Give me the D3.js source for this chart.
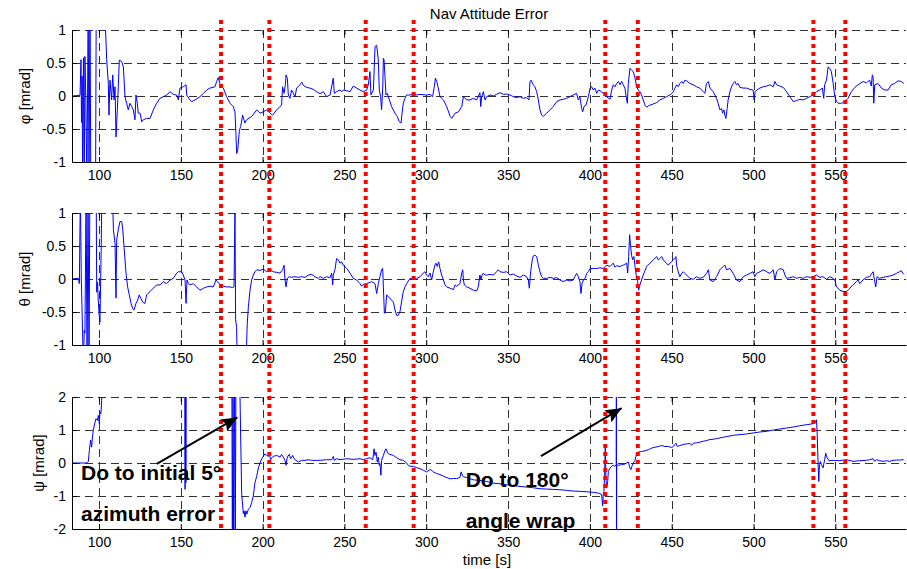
<!DOCTYPE html>
<html>
<head>
<meta charset="utf-8">
<script src="https://cdn.jsdelivr.net/npm/d3@7"></script>
<style>
  body { margin: 0; background: #fff; }
  svg { display: block; }
  text { font-family: "Liberation Sans", Arial, Helvetica, sans-serif; }
</style>
</head>
<body>
<svg id="chart" width="907" height="569"></svg>
<script>
// ---- data ---------------------------------------------------------------
const timeTicks = [100, 150, 200, 250, 300, 350, 400, 450, 500, 550];
const smallAngleTicks = [-1, -0.5, 0, 0.5, 1];
const yawTicks = [-2, -1, 0, 1, 2];
const eventTimes = [174.6, 204.1, 263.0, 292.3, 409.4, 429.3, 536.6, 556.1];

// roll attitude error [mrad] vs time [s]
const phiData = [
 [83.5,0],[88.4,0.01],[89.0,0.55],[89.3,-0.4],[89.7,0.3],[90.0,-1.4],[90.5,0.58],[91.0,-1.4],[91.4,0.6],[92.0,-0.1],
 [92.6,-1.4],[93.4,1.4],[93.9,-1.4],[94.5,1.4],[95.0,-1.4],[97.9,-1.4],[98.3,1.4],[102.5,1.4],[102.8,1.0],[104.0,1.0],
 [104.7,0.55],[105.7,0.19],[106.1,-0.29],[106.7,0.24],[107.7,-0.06],[108.4,0.32],[109.2,-0.06],[109.8,0.14],[110.4,-0.62],[111.2,-0.21],
 [111.8,0.14],[112.4,0.545],[113.9,0.52],[114.9,0.44],[115.9,-0.01],[116.9,-0.11],[117.9,-0.21],[118.9,-0.11],[120.0,-0.16],[121.0,-0.21],
 [122.0,-0.36],[122.6,0.015],[123.4,-0.11],[124.0,-0.26],[125.1,-0.26],[126.1,-0.39],[127.1,-0.36],[129.1,-0.34],[131.2,-0.34],[133.2,-0.21],
 [135.2,-0.11],[137.3,-0.035],[141.4,0.015],[143.4,0.065],[145.4,0.025],[147.5,0.015],[148.5,-0.06],[149.5,0.12],[151.5,0.14],[153.2,0.17],
 [153.6,0.015],[155.6,-0.06],[156.6,-0.085],[158.7,-0.06],[161.7,-0.01],[163.8,0.04],[165.8,0.09],[167.8,0.12],[170.9,0.14],[171.9,0.22],
 [172.9,0.28],[173.9,0.19],[175.0,0.14],[176.0,0.12],[178.0,-0.01],[180.1,-0.11],[182.1,-0.16],[183.1,-0.24],[183.7,-0.57],[184.1,-0.87],
 [184.7,-0.84],[185.8,-0.52],[186.6,-0.46],[187.8,-0.29],[189.2,-0.41],[190.2,-0.36],[193.3,-0.31],[196.4,-0.21],[198.4,-0.26],[200.4,-0.24],
 [202.5,-0.21],[204.5,-0.26],[206.1,-0.29],[208.6,-0.21],[210.6,-0.16],[211.6,-0.14],[212.2,0.14],[213.1,0.04],[213.9,0.17],[214.3,0.32],
 [215.1,0.27],[215.7,0.015],[216.7,-0.035],[217.7,0.09],[218.8,0.04],[219.8,-0.01],[220.8,0.12],[222.8,0.17],[223.9,0.21],[224.9,0.16],
 [226.9,0.13],[228.9,0.12],[231.0,0.1],[233.0,0.065],[235.1,0.035],[237.1,0.065],[239.1,-0.01],[241.2,0.015],[243.2,0.27],[243.8,0.04],
 [245.2,0.065],[247.3,0.09],[248.3,0.065],[249.3,0.09],[251.4,0.08],[253.4,0.065],[255.4,0.15],[257.5,0.12],[259.5,0.09],[261.5,0.065],
 [263.6,0.09],[264.6,0.17],[265.6,0.37],[266.2,0.015],[267.7,0.09],[268.7,0.75],[269.7,0.77],[270.7,0.545],[271.3,0.09],[272.1,-0.01],
 [272.7,-0.21],[273.4,0.12],[273.8,0.57],[274.2,0.545],[274.8,0.29],[275.4,0.015],[276.2,0.04],[277.5,-0.06],[278.8,-0.16],[280.9,-0.26],
 [282.3,-0.31],[283.5,-0.39],[284.6,-0.41],[285.2,-0.26],[286.0,-0.11],[287.0,-0.035],[288.0,0.015],[290.1,0.015],[292.1,0.03],[294.1,0.015],
 [296.2,0.025],[300.2,0.015],[302.3,0.025],[303.9,-0.01],[304.9,0.14],[305.6,0.27],[306.4,0.22],[307.2,0.14],[308.4,-0.01],[310.5,-0.06],
 [312.5,-0.16],[314.6,-0.31],[315.6,-0.34],[317.6,-0.26],[319.7,-0.24],[321.7,-0.16],[322.7,-0.01],[324.7,-0.06],[326.7,-0.06],[328.8,-0.035],
 [330.8,-0.06],[332.8,0.05],[333.3,-0.16],[333.9,-0.01],[334.9,0.065],[335.9,-0.06],[336.9,-0.01],[339.0,0.015],[341.0,0.0],[343.0,0.025],
 [345.1,0.05],[347.1,0.025],[349.1,0.03],[351.2,0.015],[353.2,-0.01],[355.2,-0.025],[357.3,-0.01],[359.3,-0.035],[361.3,-0.025],[362.8,-0.06],
 [363.4,0.22],[364.0,0.24],[365.4,0.17],[366.4,0.14],[367.5,0.065],[368.5,-0.06],[369.5,-0.21],[370.5,-0.29],[371.5,-0.31],[373.6,-0.26],
 [375.6,-0.21],[377.6,-0.16],[379.7,-0.085],[381.7,-0.06],[383.7,-0.05],[385.8,-0.035],[387.8,-0.01],[389.8,0.015],[391.9,0.04],[392.9,-0.06],
 [393.9,-0.01],[395.0,-0.19],[395.6,-0.24],[396.4,-0.16],[397.6,-0.14],[399.1,-0.01],[400.1,0.12],[401.1,0.14],[402.1,0.09],[403.1,0.12],
 [404.2,0.04],[405.2,0.09],[406.2,0.08],[408.2,0.04],[410.2,-0.01],[412.3,-0.05],[413.3,0.09],[414.3,0.17],[415.3,0.14],[416.4,0.19],
 [417.4,0.22],[418.4,0.17],[419.4,0.22],[420.4,0.17],[421.4,0.12],[422.5,-0.06],[422.9,-0.11],[423.5,0.19],[424.5,0.42],[425.5,0.39],
 [426.5,0.37],[427.6,0.27],[428.6,0.14],[429.6,0.09],[430.6,0.065],[431.6,0.015],[432.6,-0.06],[433.7,-0.14],[434.7,-0.17],[435.7,-0.15],
 [436.7,-0.14],[438.8,-0.12],[440.8,-0.10],[442.8,-0.06],[444.9,-0.035],[446.9,-0.01],[448.9,0.015],[450.0,0.04],[451.0,0.065],[452.0,0.12],
 [453.0,0.17],[454.0,0.14],[455.0,0.19],[456.1,0.22],[457.1,0.19],[458.1,0.24],[459.1,0.23],[461.1,0.19],[463.2,0.17],[465.2,0.14],
 [467.2,0.12],[469.3,0.065],[470.3,0.04],[471.3,0.19],[472.4,0.22],[473.4,0.12],[475.4,0.065],[477.4,-0.035],[478.4,-0.11],[479.5,-0.21],
 [480.5,-0.19],[481.1,-0.26],[481.9,-0.21],[482.5,-0.29],[483.1,-0.34],[483.9,-0.19],[484.5,-0.06],[485.6,0.065],[486.6,0.14],[487.6,0.19],
 [488.6,0.22],[489.6,0.17],[490.6,0.19],[491.7,0.13],[493.7,0.12],[495.8,0.12],[497.8,0.10],[499.8,0.09],[500.4,-0.06],[501.0,0.065],
 [501.9,0.09],[503.9,0.12],[505.9,0.14],[508.0,0.15],[510.0,0.17],[512.1,0.14],[513.1,0.22],[514.1,0.17],[516.1,0.15],[518.2,0.13],
 [520.2,0.065],[522.2,-0.01],[524.3,-0.085],[526.3,-0.07],[528.3,-0.05],[530.3,-0.06],[532.4,-0.035],[534.4,-0.01],[536.4,0.015],[538.5,0.065],
 [540.5,0.09],[542.1,0.12],[542.9,-0.035],[543.5,0.17],[544.6,0.24],[545.6,0.44],[546.6,0.42],[547.6,0.37],[548.7,0.19],[549.7,-0.01],
 [550.7,-0.085],[551.7,-0.11],[553.7,-0.11],[555.8,-0.085],[557.8,-0.035],[559.8,0.065],[561.9,0.13],[563.9,0.17],[567.0,0.22],[569.0,0.2],
 [571.0,0.24],[572.0,0.15],[572.6,0.32],[573.1,0.29],[573.5,-0.11],[574.1,0.17],[576.1,0.19],[578.2,0.12],[580.2,0.09],[582.2,0.09],
 [584.2,0.17],[586.3,0.19],[588.3,0.23],[590.3,0.22],[591.8,0.19]
];

// pitch attitude error [mrad] vs time [s]
const thetaData = [
 [83.5,0],[87.4,0.01],[88.0,-0.07],[88.6,1.3],[89.2,0.0],[89.8,-0.62],[90.4,-1.3],[91.0,-0.78],[91.4,-0.82],[92.1,1.3],
 [92.7,-1.3],[93.3,1.3],[93.9,-1.3],[94.4,1.3],[98.3,1.3],[98.6,-0.2],[99.1,-0.05],[99.5,-0.3],[100.1,-0.55],[100.6,-0.65],
 [101.3,0.4],[101.8,1.4],[108.2,1.3],[108.8,0.75],[109.8,0.54],[110.4,-0.29],[110.8,0.59],[111.8,0.75],[112.8,0.87],[113.9,0.87],
 [114.5,0.75],[115.3,0.49],[116.5,0.09],[117.5,-0.12],[118.5,-0.24],[119.6,-0.37],[120.6,-0.45],[121.4,-0.47],[122.6,-0.37],[123.6,-0.32],
 [124.6,-0.24],[125.5,-0.29],[126.7,-0.35],[128.1,-0.37],[129.1,-0.24],[131.2,-0.19],[133.2,-0.14],[135.2,-0.09],[137.3,-0.09],[139.3,-0.04],
 [141.4,-0.07],[143.4,-0.015],[145.4,0.01],[147.5,0.09],[148.5,0.11],[150.5,0.11],[151.5,0.06],[152.6,-0.015],[153.2,-0.37],[153.8,-0.015],
 [154.6,-0.07],[155.6,-0.09],[157.6,-0.07],[159.7,-0.12],[161.7,-0.17],[163.8,-0.14],[165.8,-0.12],[167.8,-0.11],[169.9,-0.12],[171.5,-0.015],
 [172.3,-0.04],[173.9,-0.08],[176.0,-0.11],[178.0,-0.12],[180.1,-0.12],[181.7,-0.13],[182.5,-0.12],[183.1,1.0],[183.5,-0.62],[184.1,-0.73],
 [184.5,-1.3],[185.1,-1.3],[189.8,-1.3],[190.6,-0.68],[191.3,-0.42],[192.3,-0.17],[193.3,-0.015],[194.3,0.06],[195.3,0.11],[196.4,0.14],
 [198.4,0.13],[200.4,0.15],[202.5,0.11],[204.5,0.14],[206.5,0.11],[208.6,0.1],[210.6,0.09],[212.2,0.14],[213.1,0.21],[213.7,-0.015],
 [214.3,-0.12],[215.1,0.01],[216.3,0.035],[217.7,0.025],[219.8,0.035],[221.8,0.025],[223.9,0.035],[225.9,0.025],[227.9,0.06],[230.0,0.07],
 [232.0,0.035],[234.0,0.01],[235.1,0.035],[237.1,0.01],[239.1,0.035],[241.2,0.02],[242.2,0.09],[242.8,-0.09],[243.2,0.06],[244.2,0.14],
 [245.2,0.31],[246.3,0.29],[247.3,0.24],[248.3,0.26],[249.3,0.21],[251.4,0.16],[253.4,0.09],[255.4,0.01],[257.5,-0.015],[259.5,-0.07],
 [260.5,-0.11],[261.5,-0.08],[263.6,-0.07],[266.6,-0.04],[268.7,-0.07],[269.7,-0.22],[270.7,-0.07],[271.7,0.035],[272.7,0.14],[273.4,0.16],
 [273.8,-0.12],[274.4,-0.52],[275.0,-0.5],[275.8,-0.24],[276.8,-0.27],[277.8,-0.29],[278.8,-0.32],[279.9,-0.35],[280.9,-0.47],[281.9,-0.55],
 [282.9,-0.55],[283.9,-0.5],[284.9,-0.35],[286.0,-0.19],[287.0,-0.12],[288.0,-0.07],[290.1,0.01],[292.1,-0.005],[294.1,0.005],[296.2,0.035],
 [298.2,0.09],[299.2,0.11],[300.2,0.06],[301.2,0.035],[302.3,0.09],[303.3,-0.015],[304.3,0.11],[305.3,0.21],[305.9,0.24],[306.7,0.19],
 [307.6,0.26],[308.4,0.16],[309.4,0.06],[310.5,-0.015],[311.5,-0.09],[312.5,-0.12],[314.6,-0.14],[316.6,-0.16],[317.6,-0.09],[318.6,-0.11],
 [320.6,-0.07],[321.7,0.09],[322.3,0.14],[322.7,-0.015],[323.3,-0.09],[324.7,-0.12],[326.7,-0.14],[328.8,-0.17],[330.8,-0.18],[331.8,-0.12],
 [332.8,0.06],[333.5,-0.015],[334.1,0.06],[334.9,0.09],[335.9,0.06],[336.9,0.06],[339.0,0.07],[341.0,0.06],[343.0,0.11],[344.0,0.14],
 [345.1,0.11],[347.1,0.1],[349.1,0.11],[351.2,0.06],[353.2,0.075],[355.2,0.045],[357.3,0.025],[359.3,0.06],[361.3,0.035],[362.4,-0.015],
 [363.0,-0.14],[363.8,0.11],[364.8,0.29],[365.4,0.35],[366.4,0.36],[367.5,0.34],[368.5,0.21],[369.5,0.11],[370.5,0.035],[371.5,0.01],
 [373.6,0.01],[375.6,0.025],[377.6,0.01],[379.7,0.02],[381.7,-0.015],[383.7,-0.04],[385.8,-0.015],[387.8,-0.03],[389.8,-0.015],[390.8,0.035],
 [391.9,0.085],[392.9,0.035],[393.9,-0.04],[394.6,-0.22],[395.2,-0.07],[396.0,-0.015],[397.1,0.01],[398.1,0.085],[399.1,0.11],[400.1,0.16],
 [402.1,0.16],[404.2,0.16],[406.2,0.17],[408.2,0.16],[410.2,0.21],[412.3,0.19],[414.3,0.24],[415.3,0.18],[416.4,0.2],[418.4,0.19],
 [420.4,0.21],[422.5,0.24],[423.1,0.09],[423.7,0.34],[424.3,0.67],[424.9,0.49],[425.5,0.36],[426.1,0.29],[426.9,0.34],[427.6,0.19],
 [428.6,0.01],[429.2,-0.04],[429.8,-0.17],[430.6,-0.09],[431.6,-0.015],[432.6,0.06],[434.7,0.19],[436.7,0.24],[438.8,0.29],[440.8,0.34],
 [441.8,0.29],[442.8,0.31],[443.9,0.34],[444.9,0.29],[445.9,0.26],[446.9,0.24],[447.9,0.21],[448.9,0.24],[450.0,0.26],[451.0,0.3],
 [452.0,0.31],[452.6,0.34],[453.0,0.21],[454.0,0.11],[455.0,0.035],[456.1,0.085],[457.1,0.11],[458.1,0.085],[459.1,0.06],[461.1,0.01],
 [463.2,-0.005],[465.2,0.035],[467.2,0.01],[469.3,0.025],[471.3,0.085],[472.4,0.14],[473.4,-0.015],[475.4,-0.04],[477.4,0.035],[479.5,0.14],
 [481.5,0.19],[482.5,0.21],[483.5,0.14],[485.6,0.16],[487.6,0.085],[489.6,-0.015],[491.7,-0.04],[493.7,0.035],[495.8,0.06],[497.8,0.085],
 [499.8,0.11],[500.8,0.035],[501.9,0.085],[503.9,0.11],[505.9,0.14],[508.0,0.11],[510.0,0.085],[512.1,0.14],[513.1,-0.015],[514.1,0.11],
 [516.1,0.16],[518.2,0.14],[519.2,0.06],[520.2,0.01],[522.2,0.02],[524.3,0.035],[526.3,0.01],[528.3,0.025],[530.3,0.01],[532.4,0.035],
 [534.4,0.025],[536.4,0.035],[538.5,0.06],[540.5,0.025],[542.5,0.035],[544.6,-0.005],[546.6,0.035],[548.7,0.01],[549.7,-0.015],[550.7,-0.12],
 [551.7,-0.14],[552.7,-0.17],[554.8,-0.19],[556.8,-0.19],[557.8,-0.17],[558.8,-0.14],[560.8,-0.09],[562.9,-0.04],[563.9,-0.015],[564.9,-0.07],
 [566.9,-0.015],[569.0,0.025],[571.0,0.035],[572.0,0.075],[573.1,0.11],[574.1,-0.04],[574.7,-0.12],[575.5,0.035],[577.1,0.01],[579.2,0.025],
 [581.2,0.035],[583.2,0.045],[585.3,0.06],[587.3,0.085],[589.3,0.11],[590.3,0.127],[591.4,0.085],[591.8,0.07]
];

// yaw attitude error [mrad] vs time [s]
const psiData = [
 [83.5,0],[92.5,0],[93.5,0.05],[94.1,0.38],[94.9,0.69],[95.5,0.48],[95.9,0.73],[96.5,0.99],[97.6,1.24],[98.2,1.34],
 [99.0,1.29],[99.6,1.44],[100.2,1.19],[100.6,1.55],[101.2,1.5],[101.6,1.9],[102.2,2.2],[103.0,2.6],[152.4,2.6],[152.6,-0.8],
 [152.9,2.6],[153.1,-0.6],[153.3,2.6],[181.2,2.6],[181.5,-2.6],[181.9,2.6],[182.3,-2.6],[182.9,2.6],[183.3,-2.6],[183.7,2.6],
 [186.0,2.6],[186.5,1.0],[187.2,-0.92],[188.2,-1.53],[188.7,-1.45],[189.2,-1.64],[189.8,-1.45],[190.3,-1.55],[191.3,-1.4],[192.3,-1.35],
 [193.3,-1.2],[194.3,-1.0],[195.3,-0.6],[196.4,-0.4],[197.4,-0.15],[198.4,0.0],[199.4,0.12],[200.4,0.2],[201.4,0.28],[202.5,0.23],
 [203.5,0.2],[204.1,0.26],[204.9,0.1],[205.5,0.16],[206.5,0.2],[208.6,0.23],[210.6,0.18],[211.6,0.26],[212.6,0.18],[213.7,0.08],
 [214.3,-0.07],[215.1,0.18],[216.3,0.26],[217.1,0.13],[218.4,0.23],[219.2,0.13],[220.4,0.08],[221.8,0.03],[223.9,0.08],[225.9,0.08],
 [227.9,0.1],[230.0,0.08],[232.0,0.08],[235.1,0.08],[239.1,0.1],[242.2,0.1],[243.2,0.2],[243.8,0.08],[245.2,0.13],[247.3,0.1],
 [251.4,0.13],[255.4,0.11],[259.5,0.13],[261.5,0.1],[263.6,0.13],[265.6,0.16],[267.3,0.1],[268.1,0.43],[268.7,0.23],[269.3,0.33],
 [270.1,0.03],[270.7,0.18],[271.3,-0.07],[271.7,-0.02],[272.3,-0.37],[272.7,0.08],[273.8,0.23],[274.8,0.38],[275.4,0.43],[276.2,0.33],
 [276.8,0.28],[277.8,0.26],[279.9,0.23],[281.9,0.16],[283.9,0.1],[286.0,0.08],[288.0,0.0],[289.0,-0.07],[290.1,-0.1],[292.1,-0.1],
 [294.1,-0.14],[296.2,-0.17],[298.2,-0.22],[300.2,-0.27],[302.3,-0.2],[303.3,-0.22],[304.3,-0.27],[306.4,-0.32],[308.4,-0.35],[310.5,-0.4],
 [312.5,-0.44],[314.6,-0.48],[316.6,-0.47],[318.6,-0.47],[320.6,-0.44],[321.3,-0.27],[322.1,-0.37],[322.7,-0.42],[324.7,-0.44],[328.8,-0.51],
 [332.8,-0.53],[336.9,-0.56],[341.0,-0.61],[345.1,-0.63],[349.1,-0.66],[353.2,-0.68],[357.3,-0.71],[361.3,-0.73],[365.4,-0.75],[369.5,-0.78],
 [373.6,-0.79],[377.6,-0.8],[381.7,-0.81],[385.8,-0.83],[389.8,-0.85],[393.9,-0.86],[397.9,-0.87],[402.1,-0.89],[405.1,-0.91],[407.2,-0.95],
 [407.8,-1.3],[408.2,-0.96],[408.6,-0.86],[409.0,-0.35],[409.4,0.46],[409.8,-0.46],[410.3,-0.76],[410.9,-0.56],[411.3,-0.25],[412.3,-0.15],
 [413.3,-0.1],[414.3,-0.07],[415.3,-0.1],[416.1,-0.05],[416.2,2.6],[416.3,-2.6],[416.4,-0.05],[417.4,-0.07],[419.4,-0.05],[421.5,-0.03],
 [423.5,0.03],[424.5,-0.15],[425.1,-0.2],[425.7,-0.1],[426.5,0.0],[427.6,0.08],[428.6,0.3],[429.6,0.33],[431.6,0.35],[433.7,0.37],
 [435.7,0.4],[437.7,0.45],[439.8,0.48],[441.8,0.5],[443.9,0.53],[445.9,0.5],[447.9,0.5],[450.0,0.47],[451.0,0.5],[452.0,0.57],
 [452.6,0.6],[453.4,0.5],[455.0,0.53],[457.1,0.56],[459.1,0.58],[461.1,0.59],[462.2,0.54],[463.2,0.6],[465.2,0.61],[467.2,0.63],
 [469.3,0.66],[471.3,0.68],[473.4,0.71],[475.4,0.72],[477.4,0.74],[479.5,0.76],[481.5,0.78],[483.5,0.8],[485.6,0.82],[487.6,0.84],
 [491.7,0.86],[495.8,0.88],[499.8,0.91],[503.9,0.94],[508.0,0.96],[512.1,1.0],[516.1,1.03],[520.2,1.06],[524.3,1.09],[528.3,1.13],
 [532.4,1.16],[536.4,1.19],[537.5,1.21],[538.5,1.31],[538.9,0.91],[539.5,-0.05],[539.9,-0.56],[540.3,-0.05],[540.9,0.05],[541.5,-0.05],
 [542.5,-0.15],[543.5,0.1],[544.1,0.3],[544.9,0.17],[546.1,0.07],[548.7,0.08],[552.7,0.07],[556.8,0.1],[560.8,0.05],[564.9,0.07],
 [569.0,0.08],[571.0,0.1],[573.1,0.13],[574.1,0.05],[575.1,0.1],[577.1,0.07],[579.2,0.05],[581.2,0.07],[583.2,0.05],[585.3,0.08],
 [587.3,0.09],[589.3,0.09],[591.8,0.1]
];

// ---- layout -------------------------------------------------------------
const left = 72, right = 906;
const panels = [
  { label: "φ [mrad]", data: phiData,   domain: [-1, 1], ticks: smallAngleTicks, top: 30,  bottom: 162, labelX: 30 },
  { label: "θ [mrad]", data: thetaData, domain: [-1, 1], ticks: smallAngleTicks, top: 213, bottom: 345, labelX: 30 },
  { label: "ψ [mrad]", data: psiData,   domain: [-2, 2], ticks: yawTicks,        top: 397, bottom: 529, labelX: 44 }
];

const svg = d3.select("#chart");
svg.append("rect").attr("width", 907).attr("height", 569).attr("fill", "#fff");

const x = d3.scaleLinear().domain([83.5, 593.2]).range([left, right]);

const defs = svg.append("defs");
defs.append("marker")
  .attr("id", "arrowhead")
  .attr("markerUnits", "userSpaceOnUse")
  .attr("markerWidth", 18).attr("markerHeight", 14)
  .attr("refX", 16).attr("refY", 7)
  .attr("orient", "auto")
  .append("path")
  .attr("d", "M0,0 L16,7 L0,14 L3,7 Z")
  .attr("fill", "#000");

panels.forEach((p, i) => {
  const y = d3.scaleLinear().domain(p.domain).range([p.bottom, p.top]);
  p.y = y;
  const g = svg.append("g");

  defs.append("clipPath").attr("id", "clip" + i)
    .append("rect")
    .attr("x", left).attr("y", p.top)
    .attr("width", right - left).attr("height", p.bottom - p.top);

  // dashed grid
  const grid = g.append("g")
    .attr("stroke", "#333").attr("stroke-width", 1)
    .attr("stroke-dasharray", "8,5").attr("fill", "none");
  grid.selectAll("line.h").data(p.ticks).join("line")
    .attr("class", "h")
    .attr("x1", left).attr("x2", right)
    .attr("y1", d => Math.round(y(d)) + 0.5).attr("y2", d => Math.round(y(d)) + 0.5);
  grid.selectAll("line.v").data(timeTicks).join("line")
    .attr("class", "v")
    .attr("y1", p.top).attr("y2", p.bottom)
    .attr("x1", d => Math.round(x(d)) + 0.5).attr("x2", d => Math.round(x(d)) + 0.5);

  // signal trace
  const line = d3.line().x(d => x(d[0])).y(d => y(d[1]));
  g.append("path")
    .datum(p.data)
    .attr("clip-path", `url(#clip${i})`)
    .attr("d", line)
    .attr("fill", "none")
    .attr("stroke", "#0000ff")
    .attr("stroke-width", 1)
    .attr("stroke-linejoin", "round");

  // axes with inward ticks
  const xAxis = g.append("g")
    .attr("transform", `translate(0,${p.bottom})`)
    .call(d3.axisBottom(x).tickValues(timeTicks).tickSizeInner(-5).tickSizeOuter(0).tickPadding(8));
  const topTicks = g.append("g")
    .attr("transform", `translate(0,${p.top})`)
    .call(d3.axisTop(x).tickValues(timeTicks).tickSizeInner(-5).tickSizeOuter(0).tickFormat(""));
  topTicks.select(".domain").remove();
  const yAxis = g.append("g")
    .attr("transform", `translate(${left},0)`)
    .call(d3.axisLeft(y).tickValues(p.ticks).tickSizeInner(-5).tickSizeOuter(0).tickPadding(6)
      .tickFormat(d => String(d)));

  [xAxis, yAxis, topTicks].forEach(a => {
    a.selectAll("text").attr("font-size", 14).attr("fill", "#000")
      .attr("font-family", '"Liberation Sans", Arial, sans-serif');
    a.selectAll("line").attr("stroke", "#000");
    a.select(".domain").attr("stroke", "#000");
  });

  // axis label
  g.append("text")
    .attr("transform", `translate(${p.labelX},${(p.top + p.bottom) / 2}) rotate(-90)`)
    .attr("text-anchor", "middle")
    .attr("font-size", 15)
    .text(p.label);
});

// title and time axis label
svg.append("text")
  .attr("x", (left + right) / 2).attr("y", 19)
  .attr("text-anchor", "middle").attr("font-size", 15)
  .text("Nav Attitude Error");
svg.append("text")
  .attr("x", 487).attr("y", 565)
  .attr("text-anchor", "middle").attr("font-size", 15)
  .text("time [s]");

// event markers across all three panels
svg.append("g")
  .selectAll("line").data(eventTimes).join("line")
  .attr("x1", d => x(d)).attr("x2", d => x(d))
  .attr("y1", 20).attr("y2", 529)
  .attr("stroke", "#ff0000")
  .attr("stroke-width", 4)
  .attr("stroke-dasharray", "4,4");

// annotations on the yaw panel (data coordinates)
const yPsi = panels[2].y;
const notes = [
  { t: 89.0,  v: -0.53, text: "Do to initial 5°" },
  { t: 89.0,  v: -1.77, text: "azimuth error" },
  { t: 324.1, v: -0.74, text: "Do to 180°" },
  { t: 324.1, v: -1.98, text: "angle wrap" }
];
const arrows = [
  { t0: 135.3, v0: -0.03, t1: 184.6, v1: 1.38 },
  { t0: 370.1, v0: 0.21,  t1: 419.4, v1: 1.66 }
];
svg.append("g").selectAll("line").data(arrows).join("line")
  .attr("x1", d => x(d.t0)).attr("y1", d => yPsi(d.v0))
  .attr("x2", d => x(d.t1)).attr("y2", d => yPsi(d.v1))
  .attr("stroke", "#000").attr("stroke-width", 2)
  .attr("marker-end", "url(#arrowhead)");
svg.append("g").selectAll("text").data(notes).join("text")
  .attr("x", d => x(d.t)).attr("y", d => yPsi(d.v))
  .attr("font-size", 21).attr("font-weight", "bold").attr("fill", "#000")
  .text(d => d.text);
</script>
</body>
</html>
